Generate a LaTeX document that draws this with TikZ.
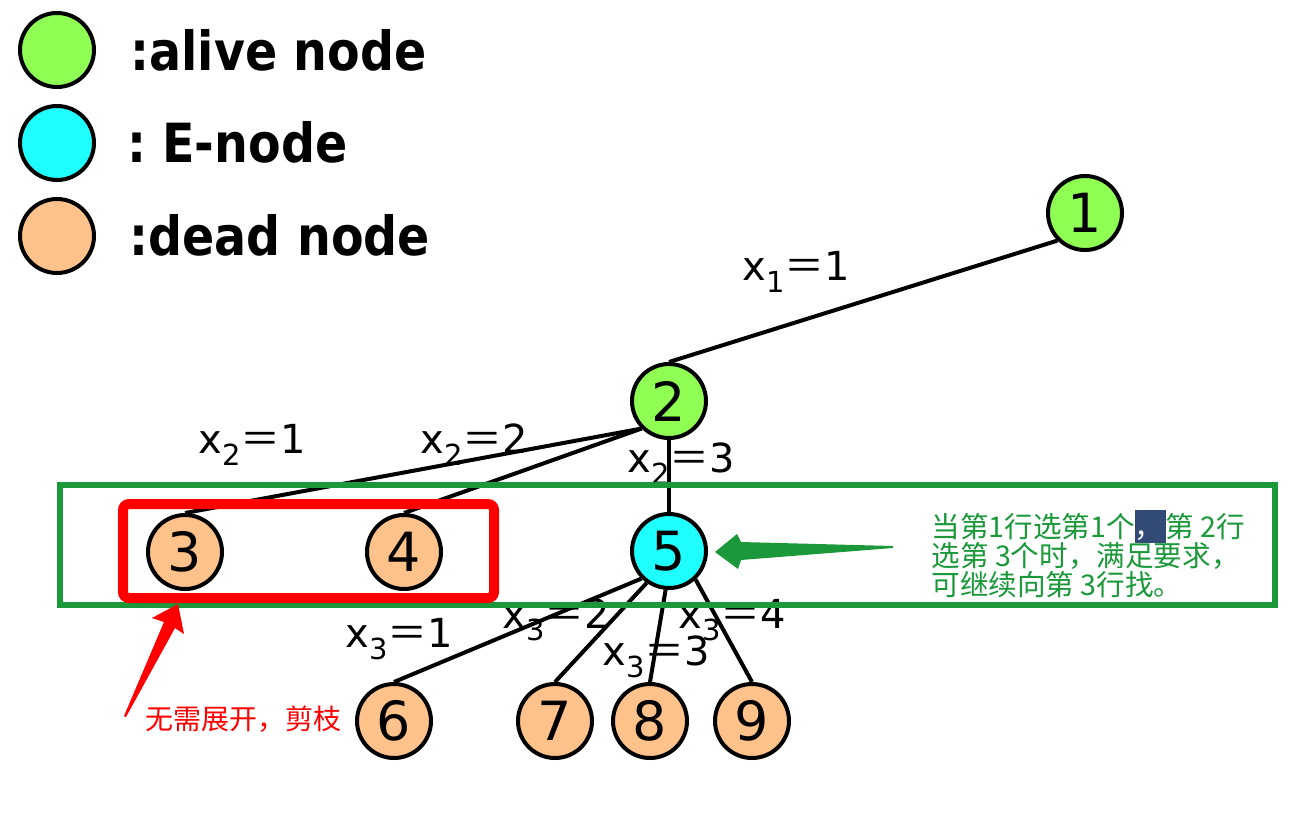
\documentclass[tikz,border=0pt]{standalone}
\usepackage{fontspec}
\setmainfont{DejaVu Sans}
\newfontfamily\cjk{Noto Sans CJK SC}
\newfontfamily\legfont[FakeStretch=0.88]{DejaVu Sans Bold}
\usetikzlibrary{positioning}
\definecolor{alivegreen}{RGB}{144,255,84}
\definecolor{enodecyan}{RGB}{32,255,255}
\definecolor{deadorange}{RGB}{255,194,138}
\definecolor{boxgreen}{RGB}{26,152,58}
\definecolor{selblue}{RGB}{50,74,118}
% label x_i = v on an edge
\newcommand{\xeq}[2]{x\raisebox{-0.3em}{\fontsize{14.5}{14.5}\selectfont #1}{\cjk ＝}#2}
% selected comma in the note
\newcommand{\selcomma}{\smash{\setlength{\fboxsep}{0pt}\colorbox{selblue}{\rule[-0.2em]{0pt}{1.15em}\textcolor{white}{，}\hspace{0.08em}}}}

\begin{document}
\begin{tikzpicture}[x=0.5pt,y=0.5pt,yscale=-1,xscale=1]
  \tikzstyle{tnode} = [circle,draw=black,line width=2pt,minimum size=37pt,inner sep=0pt,font=\fontsize{27}{27}\selectfont]
  \tikzstyle{alive} = [tnode,fill=alivegreen]
  \tikzstyle{enode} = [tnode,fill=enodecyan]
  \tikzstyle{dead} = [tnode,fill=deadorange]
  \tikzstyle{edge} = [line width=2pt]
  \tikzstyle{lbl} = [anchor=base west,inner sep=0pt,font=\fontsize{20}{20}\selectfont]
  \tikzstyle{legtext} = [anchor=base west,inner sep=0pt,font=\legfont\fontsize{27}{27}\selectfont]
  \useasboundingbox (0,0) rectangle (1290,814);
  %Draw the legend on the side
  \node (leg1) [alive] at (57,50) {};
  \node (leg2) [enode] at (57,143) {};
  \node (leg3) [dead] at (57,236) {};
  \draw (130,70) node (legt1) [legtext] {:alive node};
  \draw (127,162) node (legt2) [legtext] {:\hspace{8pt}E-node};
  \draw (129,255) node (legt3) [legtext] {:dead node};

  %Draw the tree nodes
  \node (n1) [alive] at (1085,213) {1};
  \node (n2) [alive] at (669,401) {2};
  \node (n3) [dead] at (185,552) {3};
  \node (n4) [dead] at (404,552) {4};
  \node (n5) [enode] at (669,551) {5};
  \node (n6) [dead] at (394,721) {6};
  \node (n7) [dead] at (555,721) {7};
  \node (n8) [dead] at (650,721) {8};
  \node (n9) [dead] at (752,721) {9};

  %Draw edges
  \draw [edge] (n1.225) -- (n2.north);
  \draw [edge] (n2.225) -- (n3.north);
  \draw [edge] (n2.225) -- (n4.north);
  \draw [edge] (n2.south) -- (n5.north);
  \draw [edge] (n5.225) -- (n6.north);
  \draw [edge] (n5.235) -- (n7.north);
  \draw [edge] (n5.265) -- (n8.north);
  \draw [edge] (n5.313) -- (n9.north);

  % Label the edges
  \draw (742,280) node (l1) [lbl] {\xeq{1}{1}};
  \draw (198,453) node (l21) [lbl] {\xeq{2}{1}};
  \draw (420,453) node (l22) [lbl] {\xeq{2}{2}};
  \draw (627,472) node (l23) [lbl] {\xeq{2}{3}};
  \draw (345,647) node (l31) [lbl] {\xeq{3}{1}};
  \draw (502,628) node (l32) [lbl] {\xeq{3}{2}};
  \draw (602,665) node (l33) [lbl] {\xeq{3}{3}};
  \draw (678,628) node (l34) [lbl] {\xeq{3}{4}};

  %Draw the boxes
  \draw [boxgreen,line width=3pt] (60,485) rectangle (1275,605);
  \draw [red,line width=5pt,rounded corners=3pt] (123,504) rectangle (494,598);

  % Notes
  \node (note) [anchor=north west,inner sep=0pt,align=left,text=boxgreen,font=\cjk\fontsize{14.3}{14.5}\selectfont] at (931,513) {当第1行选第1个\selcomma 第 2行\\选第 3个时，满足要求，\\可继续向第 3行找。};
  \node (prune) [inner sep=0pt,text=red,font=\cjk\fontsize{14}{14}\selectfont] at (243,719) {无需展开，剪枝};

  %Draw the arrows
  \fill [boxgreen] (715,552) -- (737,534) -- (741,542) -- (893,546) -- (893,548) -- (741,560) -- (738,569) -- cycle;
  \fill [red] (178,604) -- (184,634) -- (175,628) -- (126,717) -- (124,716) -- (164,622) -- (152,618) -- cycle;
\end{tikzpicture}
\end{document}
